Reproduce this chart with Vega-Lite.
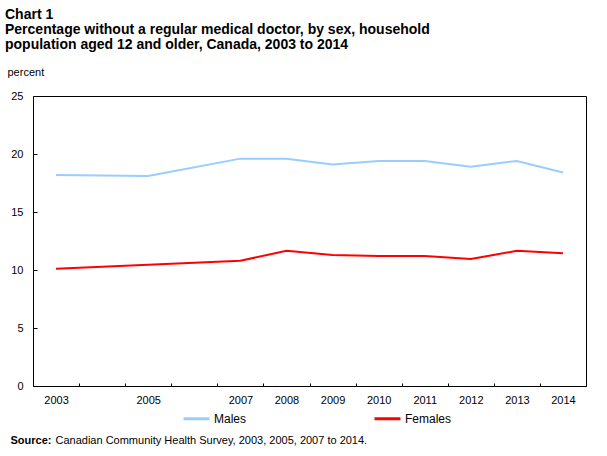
{
  "$schema": "https://vega.github.io/schema/vega-lite/v6.json",
  "width": 553,
  "height": 290,
  "autosize": "none",
  "padding": {"left": 33, "top": 96, "right": 21, "bottom": 70},
  "background": "white",
  "title": {
    "text": [
      "Chart 1",
      "Percentage without a regular medical doctor, by sex, household",
      "population aged 12 and older, Canada, 2003 to 2014"
    ],
    "anchor": "start",
    "frame": "group",
    "dx": -28,
    "offset": 14,
    "font": "Liberation Sans",
    "fontSize": 14,
    "fontWeight": "bold",
    "lineHeight": 15,
    "color": "black"
  },
  "data": {
    "values": [
      {"year": "2003", "sex": "Males", "percent": 18.2},
      {"year": "2005", "sex": "Males", "percent": 18.1},
      {"year": "2007", "sex": "Males", "percent": 19.6},
      {"year": "2008", "sex": "Males", "percent": 19.6},
      {"year": "2009", "sex": "Males", "percent": 19.1},
      {"year": "2010", "sex": "Males", "percent": 19.4},
      {"year": "2011", "sex": "Males", "percent": 19.4},
      {"year": "2012", "sex": "Males", "percent": 18.9},
      {"year": "2013", "sex": "Males", "percent": 19.4},
      {"year": "2014", "sex": "Males", "percent": 18.4},
      {"year": "2003", "sex": "Females", "percent": 10.1},
      {"year": "2005", "sex": "Females", "percent": 10.45},
      {"year": "2007", "sex": "Females", "percent": 10.8},
      {"year": "2008", "sex": "Females", "percent": 11.65},
      {"year": "2009", "sex": "Females", "percent": 11.3},
      {"year": "2010", "sex": "Females", "percent": 11.2},
      {"year": "2011", "sex": "Females", "percent": 11.2},
      {"year": "2012", "sex": "Females", "percent": 10.95},
      {"year": "2013", "sex": "Females", "percent": 11.65},
      {"year": "2014", "sex": "Females", "percent": 11.45}
    ]
  },
  "resolve": {"axis": {"x": "independent"}},
  "layer": [
    {
      "transform": [{"filter": "datum.sex == 'Males'"}],
      "mark": {"type": "line", "strokeWidth": 2},
      "encoding": {
        "x": {
          "field": "year",
          "type": "ordinal",
          "scale": {
            "type": "band",
            "domain": ["2003", "2004", "2005", "2006", "2007", "2008", "2009", "2010", "2011", "2012", "2013", "2014"],
            "paddingInner": 0,
            "paddingOuter": 0
          },
          "axis": {
            "orient": "bottom",
            "title": "Source:",
            "titleFontWeight": "bold",
            "titleFontSize": 11,
            "titleX": -23,
            "titleY": 54,
            "titleAlign": "left",
            "titleBaseline": "middle",
            "labelAngle": 0,
            "labelExpr": "datum.value == '2004' || datum.value == '2006' ? '' : datum.value",
            "tickBand": "extent",
            "tickSize": -3,
            "labelPadding": 11,
            "domain": false
          }
        },
        "y": {
          "field": "percent",
          "type": "quantitative",
          "scale": {"domain": [0, 25], "nice": false},
          "axis": {
            "values": [0, 5, 10, 15, 20, 25],
            "title": "percent",
            "titleAngle": 0,
            "titleAlign": "left",
            "titleBaseline": "alphabetic",
            "titleFontWeight": "normal",
            "titleFontSize": 11,
            "titleX": -26,
            "titleY": -21,
            "tickSize": -4,
            "labelPadding": 14,
            "grid": false,
            "domain": false
          }
        },
        "color": {
          "field": "sex",
          "type": "nominal",
          "scale": {"domain": ["Males", "Females"], "range": ["#99ccff", "#ff0000"]},
          "legend": {
            "title": null,
            "orient": "none",
            "legendX": 149,
            "legendY": 308,
            "direction": "horizontal",
            "columns": 2,
            "columnPadding": 121,
            "padding": 0,
            "symbolType": "stroke",
            "symbolSize": 676,
            "symbolStrokeWidth": 3,
            "labelFontSize": 12,
            "labelOffset": 3,
            "labelFont": "Liberation Sans",
            "labelColor": "black"
          }
        }
      }
    },
    {
      "transform": [{"filter": "datum.sex == 'Females'"}],
      "mark": {"type": "line", "strokeWidth": 2},
      "encoding": {
        "x": {
          "field": "year",
          "type": "ordinal",
          "axis": {
            "orient": "bottom",
            "title": "Canadian Community Health Survey, 2003, 2005, 2007 to 2014.",
            "titleFontWeight": "normal",
            "titleFontSize": 11,
            "titleX": 22,
            "titleY": 54,
            "titleAlign": "left",
            "titleBaseline": "middle",
            "labels": false,
            "ticks": false,
            "domain": false
          }
        },
        "y": {
          "field": "percent",
          "type": "quantitative",
          "scale": {"domain": [0, 25], "nice": false}
        },
        "color": {"field": "sex", "type": "nominal"}
      }
    }
  ],
  "config": {
    "view": {"stroke": "black", "strokeWidth": 1},
    "font": "Liberation Sans",
    "axis": {
      "labelFont": "Liberation Sans",
      "labelFontSize": 11,
      "labelColor": "black",
      "titleFont": "Liberation Sans",
      "titleColor": "black",
      "tickColor": "black",
      "tickWidth": 1
    }
  }
}
